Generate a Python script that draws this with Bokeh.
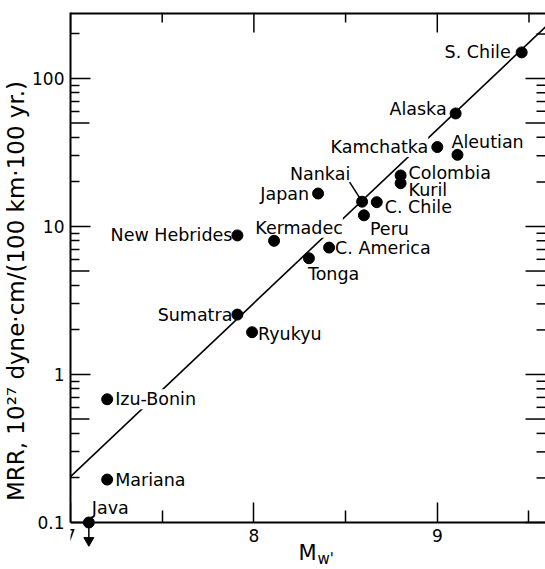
import math
from bokeh.plotting import figure
from bokeh.models import Range1d, FixedTicker, Label, ColumnDataSource
from bokeh.embed import file_html
from bokeh.resources import INLINE

# ---------------- data ----------------
NAMES = ["S. Chile", "Alaska", "Kamchatka", "Aleutian", "Colombia", "Kuril",
         "Nankai", "C. Chile", "Peru", "Japan", "Kermadec", "New Hebrides",
         "C. America", "Tonga", "Sumatra", "Ryukyu", "Izu-Bonin", "Mariana",
         "Java"]
MW = [9.46, 9.10, 9.00, 9.11, 8.80, 8.80,
      8.59, 8.67, 8.60, 8.35, 8.11, 7.91,
      8.41, 8.30, 7.91, 7.99, 7.20, 7.20,
      7.10]
MRR = [150, 58, 34.4, 30.5, 22.1, 19.6,
       14.7, 14.6, 11.9, 16.7, 8.0, 8.7,
       7.2, 6.1, 2.54, 1.93, 0.68, 0.195,
       0.1]
UPPER_BOUND = ["Java"]          # plotted value is an upper limit (arrow)

FIT_MW = [7.0, 9.6]             # regression line end points
FIT_MRR = [0.204, 229]

X_TICKS = [7, 8, 9]
X_MINOR_TICKS = [7.5, 8.5, 9.5]
Y_TICKS = [0.1, 1, 10, 100]
Y_TICK_LABELS = ["0.1", "1", "10", "100"]
Y_MID_TICKS = [0.5, 5, 50]
Y_MINOR_TICKS = [0.2, 0.3, 0.4, 0.6, 0.7, 0.8, 0.9,
                 2, 3, 4, 6, 7, 8, 9,
                 20, 30, 40, 60, 70, 80, 90, 200]
Y_TITLE = "MRR, 10²⁷ dyne·cm/(100 km·100 yr.)"
X_TITLE_MAIN, X_TITLE_SUB = "M", "w'"

# label placement (pixel offsets from the dot, alignment) -- layout only
PLACE = {
    "S. Chile": (-11, 0, "right"),
    "Alaska": (-9, 4, "right"),
    "Kamchatka": (-9, 0, "right"),
    "Aleutian": (-6, 13, "left"),
    "Colombia": (8, 2, "left"),
    "Kuril": (8, -7, "left"),
    "Nankai": (-42, 28, "center"),
    "C. Chile": (8, -5, "left"),
    "Peru": (6, -14, "left"),
    "Japan": (-9, 0, "right"),
    "Kermadec": (25, 13, "center"),
    "New Hebrides": (-5, 0, "right"),
    "C. America": (6, 0, "left"),
    "Tonga": (-1, -16, "left"),
    "Sumatra": (-5, 0, "right"),
    "Ryukyu": (6, -2, "left"),
    "Izu-Bonin": (8, 0, "left"),
    "Mariana": (8, 0, "left"),
    "Java": (3, 15, "left"),
}
BREAK_LINE = {"Izu-Bonin", "Kermadec", "Kamchatka"}   # labels that interrupt the fit line

FONT = "DejaVu Sans"
W, H = 545, 569
ML, MT, MR = 69, 12, 0
AXIS_Y_PX = 522                  # pixel row of the bottom axis (value 0.1)
X_RANGE = (7, 9.59)
Y_AXIS = (0.1, 279)              # axis extent drawn
PX_PER_MW = (W - ML - MR) / (X_RANGE[1] - X_RANGE[0])
PX_PER_DEC = (AXIS_Y_PX - MT) / math.log10(Y_AXIS[1] / Y_AXIS[0])
# frame continues below the axis so the Java arrow and the x title stay visible
Y_RANGE = (Y_AXIS[0] / 10 ** ((H - AXIS_Y_PX) / PX_PER_DEC), Y_AXIS[1])

p = figure(width=W, height=H, x_range=Range1d(*X_RANGE), y_range=Range1d(*Y_RANGE),
           y_axis_type="log", output_backend="svg", toolbar_location=None,
           min_border_left=ML, min_border_right=MR, min_border_top=MT,
           min_border_bottom=0)
p.grid.visible = False
p.outline_line_color = None
p.background_fill_color = "white"
p.border_fill_color = "white"


def style(ax, major_len, minor_len):
    ax.major_tick_in = major_len
    ax.major_tick_out = 0
    ax.minor_tick_in = minor_len
    ax.minor_tick_out = 0
    ax.major_tick_line_width = 1.5
    ax.minor_tick_line_width = 1.5
    ax.major_tick_line_color = "black"
    ax.minor_tick_line_color = "black"
    ax.axis_line_width = 2
    ax.axis_line_color = "black"
    ax.major_label_text_font = FONT
    ax.major_label_text_font_size = "17px"
    ax.major_label_text_color = "black"
    ax.major_label_standoff = 6


# bottom axis, drawn at MRR = 0.1
xb = p.xaxis[0]
xb.ticker = FixedTicker(ticks=X_TICKS, minor_ticks=X_MINOR_TICKS)
xb.fixed_location = Y_AXIS[0]
style(xb, 20, 12)

# left axis (decades, labelled)
yl = p.yaxis[0]
yl.ticker = FixedTicker(ticks=Y_TICKS, minor_ticks=Y_MINOR_TICKS)
yl.bounds = Y_AXIS
yl.major_label_overrides = {t: s for t, s in zip(Y_TICKS, Y_TICK_LABELS)}
style(yl, 20, 9)
yl.axis_label = Y_TITLE
yl.axis_label_text_font = FONT
yl.axis_label_text_font_size = "23px"
yl.axis_label_text_font_style = "normal"
yl.axis_label_text_color = "black"
yl.axis_label_standoff = 0

# frame ticks on the other sides (no labels)
TICK_STYLE = dict(line_color="black", line_width=1.5)
x0, x1 = X_RANGE
ya, yb = Y_AXIS


def dx(px):
    return px / PX_PER_MW


def fy(px):
    return 10 ** (px / PX_PER_DEC)


# top frame line
p.segment(x0=[x0], y0=[yb], x1=[x1], y1=[yb], line_color="black", line_width=4)
# long ticks at 0.5, 5, 50 on the left
p.segment(x0=[x0] * len(Y_MID_TICKS), y0=Y_MID_TICKS,
          x1=[x0 + dx(19)] * len(Y_MID_TICKS), y1=Y_MID_TICKS, **TICK_STYLE)
# right side
ymaj = sorted(Y_TICKS + Y_MID_TICKS)
p.segment(x0=[x1] * len(ymaj), y0=ymaj, x1=[x1 - dx(20)] * len(ymaj), y1=ymaj, **TICK_STYLE)
p.segment(x0=[x1] * len(Y_MINOR_TICKS), y0=Y_MINOR_TICKS,
          x1=[x1 - dx(9)] * len(Y_MINOR_TICKS), y1=Y_MINOR_TICKS, **TICK_STYLE)
# top side
p.segment(x0=X_TICKS, y0=[yb] * len(X_TICKS), x1=X_TICKS,
          y1=[yb / fy(20)] * len(X_TICKS), **TICK_STYLE)
p.segment(x0=X_MINOR_TICKS, y0=[yb] * len(X_MINOR_TICKS), x1=X_MINOR_TICKS,
          y1=[yb / fy(10)] * len(X_MINOR_TICKS), **TICK_STYLE)

# fit line (ends at the axis)
p.line(FIT_MW, FIT_MRR, line_color="black", line_width=1.6)

# point labels
for n, x, y in zip(NAMES, MW, MRR):
    ox, oy, al = PLACE[n]
    lab = Label(x=x, y=y, x_offset=ox, y_offset=oy, text=n, text_align=al,
                text_baseline="middle", text_font=FONT, text_font_size="17.5px",
                text_color="black")
    if n in BREAK_LINE:
        lab.background_fill_color = "white"
    p.add_layout(lab)

# Nankai leader line
i = NAMES.index("Nankai")
nx, ny = MW[i], MRR[i]
p.segment(x0=[nx - dx(12.5)], y0=[ny * fy(19.5)], x1=[nx], y1=[ny], **TICK_STYLE)

# points
src = ColumnDataSource(dict(x=MW, y=MRR, name=NAMES))
p.scatter("x", "y", source=src, size=11, fill_color="black", line_color="black",
          level="overlay")

# upper-bound arrows
ub = [NAMES.index(n) for n in UPPER_BOUND]
ux = [MW[j] for j in ub]
uy = [MRR[j] for j in ub]
p.segment(x0=ux, y0=uy, x1=ux, y1=[v / fy(16) for v in uy],
          line_color="black", line_width=1.5, level="overlay")
p.scatter(ux, [v / fy(18) for v in uy], marker="inverted_triangle",
          size=10, fill_color="black", line_color="black", level="overlay")

# x-axis title  M_w'
xm = x0 + (306.5 - ML) / PX_PER_MW
p.add_layout(Label(x=xm, y=ya, y_offset=-30, text=X_TITLE_MAIN, text_align="center",
                   text_baseline="middle", text_font=FONT, text_font_size="21px",
                   text_color="black"))
p.add_layout(Label(x=xm, y=ya, x_offset=10, y_offset=-36, text=X_TITLE_SUB,
                   text_align="left", text_baseline="middle", text_font=FONT,
                   text_font_size="15px", text_color="black"))

open("out.html", "w").write(file_html(p, INLINE))
